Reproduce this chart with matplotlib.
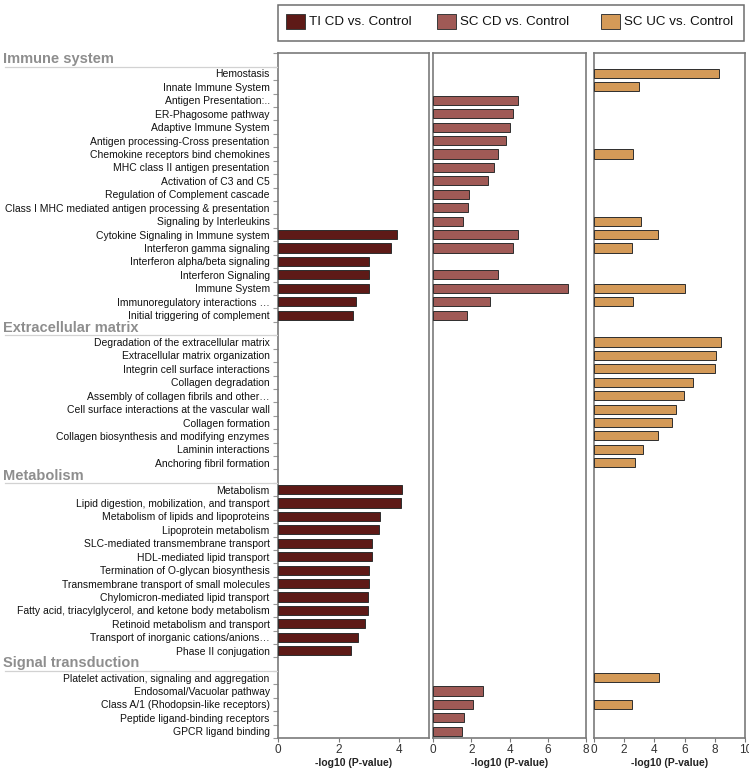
import numpy as np
import matplotlib
matplotlib.use("Agg")
import matplotlib.pyplot as plt
from matplotlib.patches import Rectangle
from matplotlib.lines import Line2D
import matplotlib.transforms as mtransforms

plt.rcParams['font.family'] = ['Liberation Sans', 'DejaVu Sans']

nan = np.nan

# ---------------- data ----------------
group_names = ["Immune system", "Extracellular matrix", "Metabolism", "Signal transduction"]

immune_labels = [
    "Hemostasis", "Innate Immune System", "Antigen Presentation:..", "ER-Phagosome pathway",
    "Adaptive Immune System", "Antigen processing-Cross presentation",
    "Chemokine receptors bind chemokines", "MHC class II antigen presentation",
    "Activation of C3 and C5", "Regulation of Complement cascade",
    "Class I MHC mediated antigen processing & presentation", "Signaling by Interleukins",
    "Cytokine Signaling in Immune system", "Interferon gamma signaling",
    "Interferon alpha/beta signaling", "Interferon Signaling", "Immune System",
    "Immunoregulatory interactions \u2026", "Initial triggering of complement",
]
ecm_labels = [
    "Degradation of the extracellular matrix", "Extracellular matrix organization",
    "Integrin cell surface interactions", "Collagen degradation",
    "Assembly of collagen fibrils and other\u2026", "Cell surface interactions at the vascular wall",
    "Collagen formation", "Collagen biosynthesis and modifying enzymes",
    "Laminin interactions", "Anchoring fibril formation",
]
metab_labels = [
    "Metabolism", "Lipid digestion, mobilization, and transport",
    "Metabolism of lipids and lipoproteins", "Lipoprotein metabolism",
    "SLC-mediated transmembrane transport", "HDL-mediated lipid transport",
    "Termination of O-glycan biosynthesis", "Transmembrane transport of small molecules",
    "Chylomicron-mediated lipid transport",
    "Fatty acid, triacylglycerol, and ketone body metabolism",
    "Retinoid metabolism and transport", "Transport of inorganic cations/anions\u2026",
    "Phase II conjugation",
]
signal_labels = [
    "Platelet activation, signaling and aggregation", "Endosomal/Vacuolar pathway",
    "Class A/1 (Rhodopsin-like receptors)", "Peptide ligand-binding receptors",
    "GPCR ligand binding",
]

series_names = ["TI CD vs. Control", "SC CD vs. Control", "SC UC vs. Control"]
series_colors = ["#5e1a17", "#a05a56", "#d49a58"]
series_xmax = [5, 8, 10]

# -log10(P) values, per group, per series (nan = not significant / absent)
ti_cd_immune = [nan, nan, nan, nan, nan, nan, nan, nan, nan, nan, nan, nan,
                3.95, 3.76, 3.02, 3.00, 3.00, 2.58, 2.49]
sc_cd_immune = [nan, nan, 4.46, 4.17, 4.01, 3.80, 3.38, 3.20, 2.87, 1.89, 1.80, 1.54,
                4.46, 4.18, nan, 3.40, 7.05, 2.96, 1.75]
sc_uc_immune = [8.26, 2.98, nan, nan, nan, nan, 2.62, nan, nan, nan, nan, 3.11,
                4.23, 2.55, nan, nan, 5.99, 2.62, nan]

ti_cd_ecm = [nan] * 10
sc_cd_ecm = [nan] * 10
sc_uc_ecm = [8.40, 8.04, 7.98, 6.57, 5.93, 5.42, 5.16, 4.23, 3.22, 2.73]

ti_cd_metab = [4.11, 4.07, 3.38, 3.34, 3.12, 3.11, 3.00, 3.00, 2.97, 2.97, 2.89, 2.64, 2.43]
sc_cd_metab = [nan] * 13
sc_uc_metab = [nan] * 13

ti_cd_signal = [nan, nan, nan, nan, nan]
sc_cd_signal = [nan, 2.59, 2.07, 1.63, 1.49]
sc_uc_signal = [4.30, nan, 2.51, nan, nan]

# ---------------- assemble rows ----------------
groups = [
    (group_names[0], immune_labels, [ti_cd_immune, sc_cd_immune, sc_uc_immune]),
    (group_names[1], ecm_labels, [ti_cd_ecm, sc_cd_ecm, sc_uc_ecm]),
    (group_names[2], metab_labels, [ti_cd_metab, sc_cd_metab, sc_uc_metab]),
    (group_names[3], signal_labels, [ti_cd_signal, sc_cd_signal, sc_uc_signal]),
]

header_rows = []
item_rows = []
item_labels = []
series_vals = [[], [], []]
r = 0
for gname, labels, vals in groups:
    header_rows.append((r, gname))
    r += 1
    for k, lab in enumerate(labels):
        item_rows.append(r)
        item_labels.append(lab)
        for s in range(3):
            series_vals[s].append(vals[s][k])
        r += 1
n_rows = r

# ---------------- figure ----------------
W, H = 749, 772
fig = plt.figure(figsize=(W / 100, H / 100), dpi=100)

top_px, bot_px = 53.3, 738.0
panels_px = [(278.3, 428.8), (433.3, 585.7), (593.7, 745.3)]
frame_col = "#7a7a7a"

axes = []
for s, (x0, x1) in enumerate(panels_px):
    ax = fig.add_axes([x0 / W, 1 - bot_px / H, (x1 - x0) / W, (bot_px - top_px) / H])
    axes.append(ax)
    vals = np.array(series_vals[s], dtype=float)
    ax.barh(item_rows, vals, height=0.68, color=series_colors[s],
            edgecolor="#2e2e2e", linewidth=0.7, zorder=3)
    ax.set_ylim(n_rows - 0.5, -0.5)
    ax.set_xlim(0, series_xmax[s])
    ax.set_xticks(np.arange(0, series_xmax[s] + 0.1, 2))
    ax.tick_params(axis='x', direction='out', length=3, width=0.8, color=frame_col,
                   labelsize=8.5, labelcolor="#333333", pad=1.5)
    for sp in ax.spines.values():
        sp.set_color(frame_col)
        sp.set_linewidth(1.2)
    ax.set_xlabel("-log10 (P-value)", fontsize=7.5, fontweight='bold',
                  color="#222222", labelpad=1)
    if s == 0:
        ax.set_yticks(np.arange(-0.5, n_rows, 1.0))
        ax.set_yticklabels([])
        ax.tick_params(axis='y', which='major', direction='out', length=3.5,
                       width=0.8, color="#999999")
        ax.set_yticks(item_rows, minor=True)
        ax.set_yticklabels(item_labels, minor=True)
        ax.tick_params(axis='y', which='minor', length=0, pad=6.2,
                       labelsize=7.5, labelcolor="#111111")
    else:
        ax.set_yticks([])

# group headers with underline
ax0 = axes[0]
trans = mtransforms.blended_transform_factory(fig.transFigure, ax0.transData)
for row, name in header_rows:
    ax0.text(3 / W, row - 0.05, name, transform=trans, ha='left', va='center',
             fontsize=10.5, fontweight='bold', color="#8e8e8e", clip_on=False)
    fig.add_artist(Line2D([5 / W, 277 / W], [0, 0], color="#d2d2d2", linewidth=0.9,
                          transform=mtransforms.blended_transform_factory(
                              fig.transFigure, ax0.transData)))
    fig.artists[-1].set_ydata([row + 0.5, row + 0.5])

# legend box
lx0, lx1, ly0, ly1 = 278.3, 744.3, 4.7, 40.7
fig.add_artist(Rectangle((lx0 / W, 1 - ly1 / H), (lx1 - lx0) / W, (ly1 - ly0) / H,
                         transform=fig.transFigure, facecolor="white",
                         edgecolor="#6e6e6e", linewidth=1.1))
patch_x = [285.7, 436.7, 600.7]
for s in range(3):
    px = patch_x[s]
    fig.add_artist(Rectangle((px / W, 1 - 29.3 / H), 19.6 / W, 15.3 / H,
                             transform=fig.transFigure, facecolor=series_colors[s],
                             edgecolor="#3a3a3a", linewidth=0.7))
    fig.text((px + 23) / W, 1 - 21.8 / H, series_names[s], ha='left', va='center',
             fontsize=9.6, color="#111111")

fig.savefig("out.png", dpi=100)
